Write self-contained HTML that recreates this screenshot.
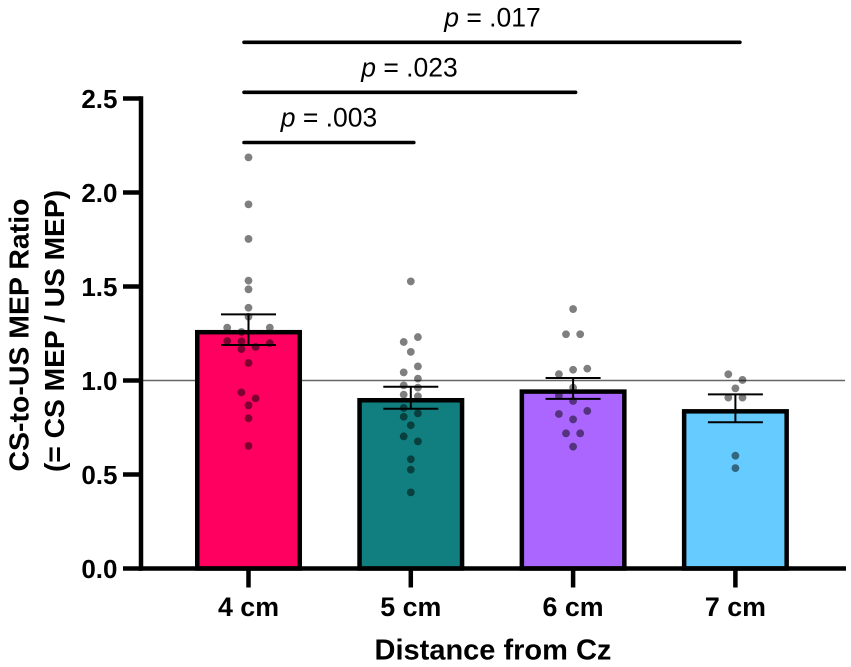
<!DOCTYPE html>
<html lang="en">
<head>
<meta charset="utf-8">
<title>CS-to-US MEP Ratio by Distance from Cz</title>
<style>
html,body{margin:0;padding:0;background:#fff;}
svg{display:block;font-family:"Liberation Sans",sans-serif;}
</style>
</head>
<body>
<svg id="chart" width="851" height="667" viewBox="0 0 851 667" xmlns="http://www.w3.org/2000/svg"></svg>
<script>
const categories = ['4 cm', '5 cm', '6 cm', '7 cm'];
const barValues = [1.257, 0.895, 0.941, 0.836];
const barColors = ['#ff0060', '#117f7f', '#aa66ff', '#66ccff'];
const errorUpper = [1.352, 0.967, 1.013, 0.926];
const errorLower = [1.189, 0.850, 0.902, 0.778];
const yTicks = ['0.0', '0.5', '1.0', '1.5', '2.0', '2.5'];

const points4cm = [2.187, 1.937, 1.753, 1.531, 1.485, 1.387, 1.339, 1.281, 1.281, 1.258, 1.210, 1.208, 1.199, 1.178, 1.167, 1.093, 0.937, 0.905, 0.868, 0.799, 0.652];
const swarm4cm = [0, 0, 0, 0, 0, 0, 0, -3, 3, -1, -3, -1, 3, 1, -1, 0, -1, 1, 0, 0, 0];
const points5cm = [1.527, 1.231, 1.205, 1.152, 1.075, 1.043, 1.010, 0.974, 0.962, 0.925, 0.916, 0.854, 0.825, 0.807, 0.762, 0.703, 0.676, 0.581, 0.526, 0.405];
const swarm5cm = [0, 1, -1, 0, 1, -1, 1, -1, 1, -1, 1, -1, 1, -1, 0, -1, 1, 0, 0, 0];
const points6cm = [1.380, 1.246, 1.246, 1.063, 1.057, 1.034, 0.962, 0.919, 0.891, 0.838, 0.822, 0.793, 0.719, 0.719, 0.648];
const swarm6cm = [0, -1, 1, 2, 0, -2, 0, -2, 0, 2, -2, 0, -1, 1, 0];
const points7cm = [1.033, 1.003, 0.958, 0.909, 0.909, 0.600, 0.534];
const swarm7cm = [-1, 1, 0, -1, 1, 0, 0];

const sigLabels = ['.003', '.023', '.017'];
const sigTargets = [1, 2, 3];

const allPoints = [points4cm, points5cm, points6cm, points7cm];
const allSwarm = [swarm4cm, swarm5cm, swarm6cm, swarm7cm];

const svg = document.getElementById('chart');
const NS = 'http://www.w3.org/2000/svg';
const yScale = v => 568.5 - 188 * v;
const xScale = i => 248.5 + 162.3 * i;
const SLOT = 7.1;
const BAR_W = 102.5;

function mk(tag, attrs, text) {
  const el = document.createElementNS(NS, tag);
  for (const k in attrs) el.setAttribute(k, attrs[k]);
  if (text !== undefined) el.textContent = text;
  svg.appendChild(el);
  return el;
}
function line(x1, y1, x2, y2, stroke, w, cap) {
  return mk('line', {x1: x1, y1: y1, x2: x2, y2: y2, stroke: stroke, 'stroke-width': w, 'stroke-linecap': cap || 'butt'});
}

// reference line at 1.0
const refLine = line(143, yScale(1), 845, yScale(1), '#666', 1.6);



// bars
categories.forEach((c, i) => {
  const top = yScale(barValues[i]);
  const bar = mk('rect', {x: xScale(i) - BAR_W / 2, y: top, width: BAR_W, height: yScale(0) - top, fill: barColors[i], stroke: '#000', 'stroke-width': 4.5});
  
  
});

// points
allPoints.forEach((series, i) => {
  series.forEach((v, j) => {
    const dot = mk('circle', {cx: xScale(i) + allSwarm[i][j] * SLOT, cy: yScale(v), r: 3.9, fill: 'rgba(0,0,0,0.5)'});
    
    
  });
});

// error bars
categories.forEach((c, i) => {
  const x = xScale(i);
  const stem = line(x, yScale(errorUpper[i]), x, yScale(errorLower[i]), '#000', 2);
  
  
  const capTop = line(x - 27.5, yScale(errorUpper[i]), x + 27.5, yScale(errorUpper[i]), '#000', 2);
  
  
  const capBottom = line(x - 27.5, yScale(errorLower[i]), x + 27.5, yScale(errorLower[i]), '#000', 2);
  
  
});

// y axis
const yAxis = line(141, yScale(2.5) - 2.2, 141, yScale(0) + 2.2, '#000', 4.5);


yTicks.forEach(t => {
  const v = parseFloat(t);
  const tick = line(123, yScale(v), 141, yScale(v), '#000', 4.5);
  
  
  const lab = mk('text', {x: 117.5, y: yScale(v) + 9.5, 'text-anchor': 'end', 'font-size': 26, 'font-weight': 700, fill: '#000'}, t);
  
  
});

// x axis
const xAxis = line(139, yScale(0), 846, yScale(0), '#000', 4.5);


categories.forEach((c, i) => {
  const tick = line(xScale(i), yScale(0), xScale(i), 587.5, '#000', 4.5);
  
  
  const lab = mk('text', {x: xScale(i), y: 616, 'text-anchor': 'middle', 'font-size': 26.8, 'font-weight': 700, fill: '#000'}, c);
  
  
});

// axis titles
const xTitle = mk('text', {x: 493, y: 659.5, 'text-anchor': 'middle', 'font-size': 29, 'font-weight': 700, fill: '#000'}, 'Distance from Cz');


const yTitle1 = mk('text', {transform: 'translate(28.3 335) rotate(-90)', 'text-anchor': 'middle', 'font-size': 28, 'font-weight': 700, fill: '#000', textLength: 273, lengthAdjust: 'spacingAndGlyphs'}, 'CS-to-US MEP Ratio');


const yTitle2 = mk('text', {transform: 'translate(64 331) rotate(-90)', 'text-anchor': 'middle', 'font-size': 28, 'font-weight': 700, fill: '#000', textLength: 282, lengthAdjust: 'spacingAndGlyphs'}, '(= CS MEP / US MEP)');



// significance brackets
const sigY = [142.5, 92.3, 42.3];
const sigTextX = [329, 409.5, 492.5];
sigLabels.forEach((label, i) => {
  const br = line(244, sigY[i], xScale(sigTargets[i]) + (i === 0 ? 3 : i === 1 ? 2.5 : 4.5), sigY[i], '#000', 3.6, 'round');
  
  
  const txt = mk('text', {x: sigTextX[i], y: sigY[i] - 16, 'text-anchor': 'middle', 'font-size': 26.5, fill: '#000'});
  
  
  const p = document.createElementNS(NS, 'tspan');
  p.setAttribute('font-style', 'italic');
  p.textContent = 'p';
  txt.appendChild(p);
  txt.appendChild(document.createTextNode(' = ' + label));
});
</script>
</body>
</html>
